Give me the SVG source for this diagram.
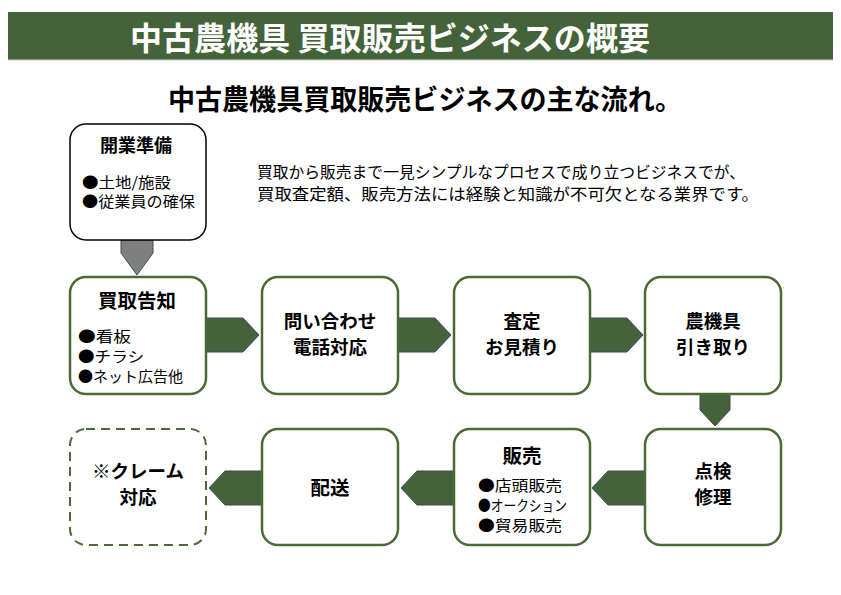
<svg xmlns="http://www.w3.org/2000/svg" width="841" height="595" viewBox="0 0 841 595">
<style>
text{font-family:"Noto Sans CJK JP","Noto Sans",sans-serif;fill:#000}
.t{font-weight:bold;font-size:18.5px;text-anchor:middle}
.b{font-size:15px}
.box{fill:#fff;stroke:#4a6a36;stroke-width:2.5}
.arr{fill:#44633a;stroke:#3b4d5e;stroke-width:1}
</style>
<rect width="841" height="595" fill="#fff"/>
<rect x="8" y="12" width="825" height="48" fill="#44633a"/>
<line x1="8" y1="60" x2="833" y2="60" stroke="#c8d0c4" stroke-width="1"/>
<text x="390" y="50" font-size="32" font-weight="bold" text-anchor="middle" style="fill:#fff" textLength="520" lengthAdjust="spacingAndGlyphs">中古農機具 買取販売ビジネスの概要</text>
<text x="425" y="110" font-size="28" font-weight="bold" text-anchor="middle" textLength="514" lengthAdjust="spacingAndGlyphs">中古農機具買取販売ビジネスの主な流れ。</text>
<text x="257" y="178" font-size="16" textLength="488" lengthAdjust="spacingAndGlyphs">買取から販売まで一見シンプルなプロセスで成り立つビジネスでが、</text>
<text x="257" y="200" font-size="16" textLength="502" lengthAdjust="spacingAndGlyphs">買取査定額、販売方法には経験と知識が不可欠となる業界です。</text>
<g id="connectors">
<path d="M121,240 H153 V253 L137,275 L121,253 Z" fill="#7f7f7f" stroke="#3b4d5e" stroke-width="1"/>
<path class="arr" d="M206,318 H243 L259,335 L243,352 H206 Z"/>
<path class="arr" d="M398,318 H435 L451,335 L435,352 H398 Z"/>
<path class="arr" d="M590,318 H627 L643,335 L627,352 H590 Z"/>
<path class="arr" d="M700,394 H730 V410 L715,426 L700,410 Z"/>
<path class="arr" d="M645,471 H608 L592,488 L608,505 H645 Z"/>
<path class="arr" d="M454,471 H417 L401,488 L417,505 H454 Z"/>
<path class="arr" d="M262,471 H225 L209,488 L225,505 H262 Z"/>
</g>
<g id="kaigyo">
<rect x="70" y="124" width="136" height="116" rx="16" fill="#fff" stroke="#000" stroke-width="1.5"/>
<text class="t" x="136" y="152" style="font-size:18px">開業準備</text>
<text class="b" x="82" y="188" textLength="89" lengthAdjust="spacingAndGlyphs">●土地/施設</text>
<text class="b" x="82" y="207" textLength="113" lengthAdjust="spacingAndGlyphs">●従業員の確保</text>
</g>
<g id="kaitori-kokuchi">
<rect class="box" x="70" y="277" width="136" height="117" rx="16"/>
<text class="t" x="137" y="308" style="font-size:19.5px">買取告知</text>
<text class="b" x="78" y="342" textLength="53" lengthAdjust="spacingAndGlyphs">●看板</text>
<text class="b" x="78" y="362" textLength="66" lengthAdjust="spacingAndGlyphs">●チラシ</text>
<text class="b" x="78" y="382" textLength="105" lengthAdjust="spacingAndGlyphs">●ネット広告他</text>
</g>
<g id="toiawase">
<rect class="box" x="262" y="277" width="136" height="117" rx="16"/>
<text class="t" x="330" y="328">問い合わせ</text>
<text class="t" x="330" y="354">電話対応</text>
</g>
<g id="satei">
<rect class="box" x="454" y="277" width="136" height="117" rx="16"/>
<text class="t" x="522" y="328">査定</text>
<text class="t" x="522" y="354">お見積り</text>
</g>
<g id="hikitori">
<rect class="box" x="645" y="277" width="136" height="117" rx="16"/>
<text class="t" x="713" y="328">農機具</text>
<text class="t" x="713" y="354">引き取り</text>
</g>
<g id="tenken">
<rect class="box" x="645" y="429" width="136" height="116" rx="16"/>
<text class="t" x="713" y="478">点検</text>
<text class="t" x="713" y="504">修理</text>
</g>
<g id="hanbai">
<rect class="box" x="454" y="429" width="136" height="116" rx="16"/>
<text class="t" x="522" y="463" style="font-size:19.5px">販売</text>
<text class="b" x="478" y="491" textLength="84" lengthAdjust="spacingAndGlyphs">●店頭販売</text>
<text class="b" x="478" y="511" textLength="89" lengthAdjust="spacingAndGlyphs">●オークション</text>
<text class="b" x="478" y="531" textLength="84" lengthAdjust="spacingAndGlyphs">●貿易販売</text>
</g>
<g id="haiso">
<rect class="box" x="262" y="429" width="136" height="116" rx="16"/>
<text class="t" x="330" y="495" style="font-size:19.5px">配送</text>
</g>
<g id="claim">
<rect x="70" y="429" width="136" height="116" rx="16" fill="#fff" stroke="#4a6a36" stroke-width="2" stroke-dasharray="9,6"/>
<text class="t" x="138" y="478">※クレーム</text>
<text class="t" x="138" y="504">対応</text>
</g>
</svg>
